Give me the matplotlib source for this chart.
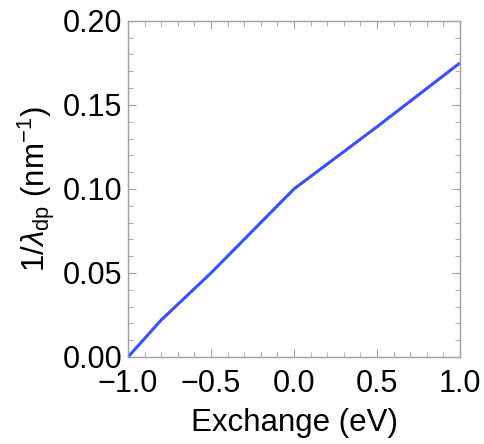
import matplotlib.pyplot as plt
import numpy as np
from matplotlib.ticker import MultipleLocator

plt.rcParams['font.family'] = ['Liberation Sans', 'DejaVu Sans']
plt.rcParams['mathtext.fontset'] = 'custom'
plt.rcParams['mathtext.rm'] = 'Liberation Sans'
plt.rcParams['mathtext.it'] = 'Liberation Sans:italic'

# exchange energy (eV) vs inverse decay length (1/nm)
exchange = [-1.0, -0.8, -0.5, 0.0, 0.5, 1.0]
inv_lambda = [0.0, 0.022, 0.050, 0.100, 0.137, 0.175]

fig = plt.figure(figsize=(4.84, 4.44), dpi=100)
ax = fig.add_axes([0.2645, 0.196, 0.686, 0.757])
ax.plot(exchange, inv_lambda, color='#3a50f5', linewidth=2.2, solid_capstyle='butt')

ax.set_xlim(-1, 1)
ax.set_ylim(0, 0.2)
ax.xaxis.set_major_locator(MultipleLocator(0.5))
ax.xaxis.set_minor_locator(MultipleLocator(0.1))
ax.yaxis.set_major_locator(MultipleLocator(0.05))
ax.yaxis.set_minor_locator(MultipleLocator(0.01))
ax.xaxis.set_major_formatter(plt.FuncFormatter(lambda v, p: ('%.1f' % v).replace('-', '\u2212')))
ax.yaxis.set_major_formatter(plt.FuncFormatter(lambda v, p: '%.2f' % v))

for s in ax.spines.values():
    s.set_color('#a0a0a0')
    s.set_linewidth(1.0)
ax.tick_params(which='both', direction='in', top=True, right=True, color='#a0a0a0', labelsize=22)
ax.tick_params(axis='x', which='major', pad=9)
ax.tick_params(axis='y', which='major', pad=4)
ax.tick_params(which='major', length=6, width=0.8)
ax.tick_params(which='minor', length=3.5, width=0.6)

ax.set_xlabel('Exchange (eV)', fontsize=22.5, labelpad=6)
ax.set_ylabel(r'1/$\lambda_{\rm dp}$ (nm$^{-1}$)', fontsize=22.5, labelpad=4)

plt.savefig('out.png', dpi=100)
